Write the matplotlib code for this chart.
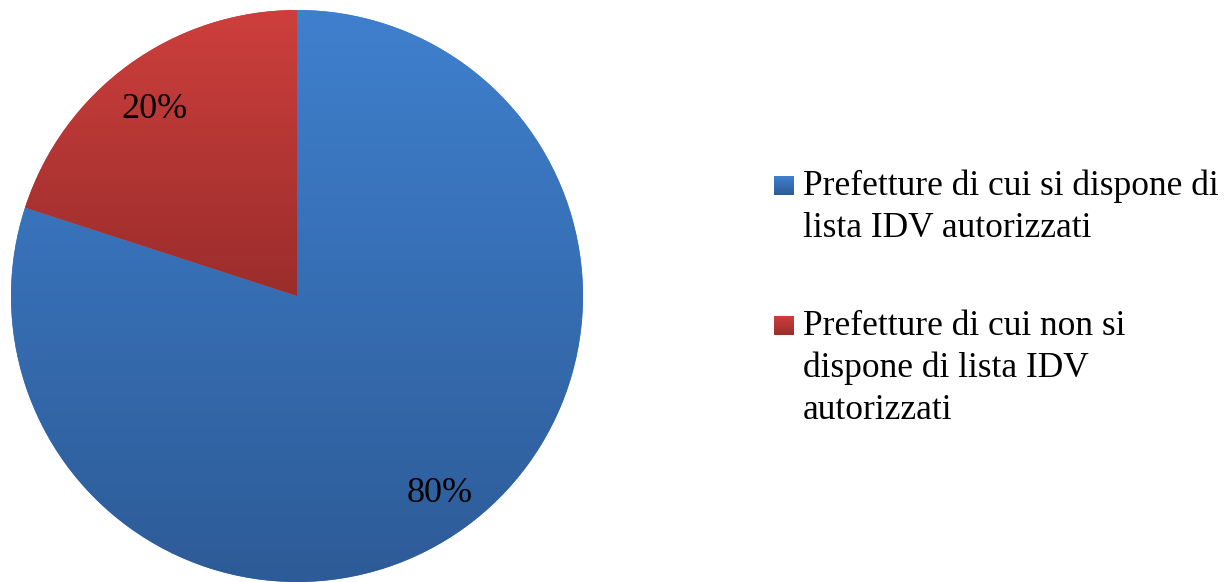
import numpy as np
import matplotlib.pyplot as plt
from matplotlib.colors import LinearSegmentedColormap

# data
values = [80, 20]
pct_labels = ['80%', '20%']
legend_lines = [
    ['Prefetture di cui si dispone di', 'lista IDV autorizzati'],
    ['Prefetture di cui non si', 'dispone di lista IDV', 'autorizzati'],
]
top_colors = ['#3F80CE', '#CD3F3D']
bottom_colors = ['#2D5B97', '#9A2D2B']

plt.rcParams['font.family'] = ['Liberation Serif', 'DejaVu Serif']

W, H = 1231, 582
fig = plt.figure(figsize=(W / 100, H / 100), dpi=100)
ax = fig.add_axes([11 / W, 0, 572 / W, 572 / H])

wedges, _ = ax.pie(values, startangle=90, counterclock=False, radius=1,
                   colors=top_colors, wedgeprops=dict(linewidth=0))

# vertical gradient inside each slice, over the slice's own bounding box
grad = np.linspace(0, 1, 256).reshape(-1, 1)
for w, c0, c1 in zip(wedges, top_colors, bottom_colors):
    path = w.get_path().transformed(w.get_patch_transform())
    ext = path.get_extents()
    cmap = LinearSegmentedColormap.from_list('g', [c1, c0])
    im = ax.imshow(grad, cmap=cmap, origin='lower', aspect='auto',
                   extent=(-1, 1, ext.y0, ext.y1), interpolation='bilinear',
                   zorder=2)
    im.set_clip_path(w)

ax.set_xlim(-1, 1)
ax.set_ylim(-1, 1)
ax.set_aspect('equal')
ax.axis('off')

# percentage labels at the middle angle of each slice
start = 90
for v, lab in zip(values, pct_labels):
    ang = np.deg2rad(start - v / sum(values) * 360 / 2)
    start -= v / sum(values) * 360
    ax.text(0.85 * np.cos(ang), 0.83 * np.sin(ang) - 0.02, lab, ha='center',
            va='center', fontsize=26, zorder=3)

# legend drawn by hand: gradient square aligned with first line
entry_y = [195, 335]
line_h = 42
for lines, c0, c1, y0 in zip(legend_lines, top_colors, bottom_colors, entry_y):
    sq = fig.add_axes([774 / W, 1 - y0 / H, 20 / W, 19 / H])
    cmap = LinearSegmentedColormap.from_list('g', [c1, c0])
    sq.imshow(grad, cmap=cmap, origin='lower', aspect='auto')
    sq.axis('off')
    for i, ln in enumerate(lines):
        fig.text(803 / W, 1 - (y0 + i * line_h) / H, ln, ha='left',
                 va='baseline', fontsize=25.5)

fig.savefig('out.png', dpi=100)
